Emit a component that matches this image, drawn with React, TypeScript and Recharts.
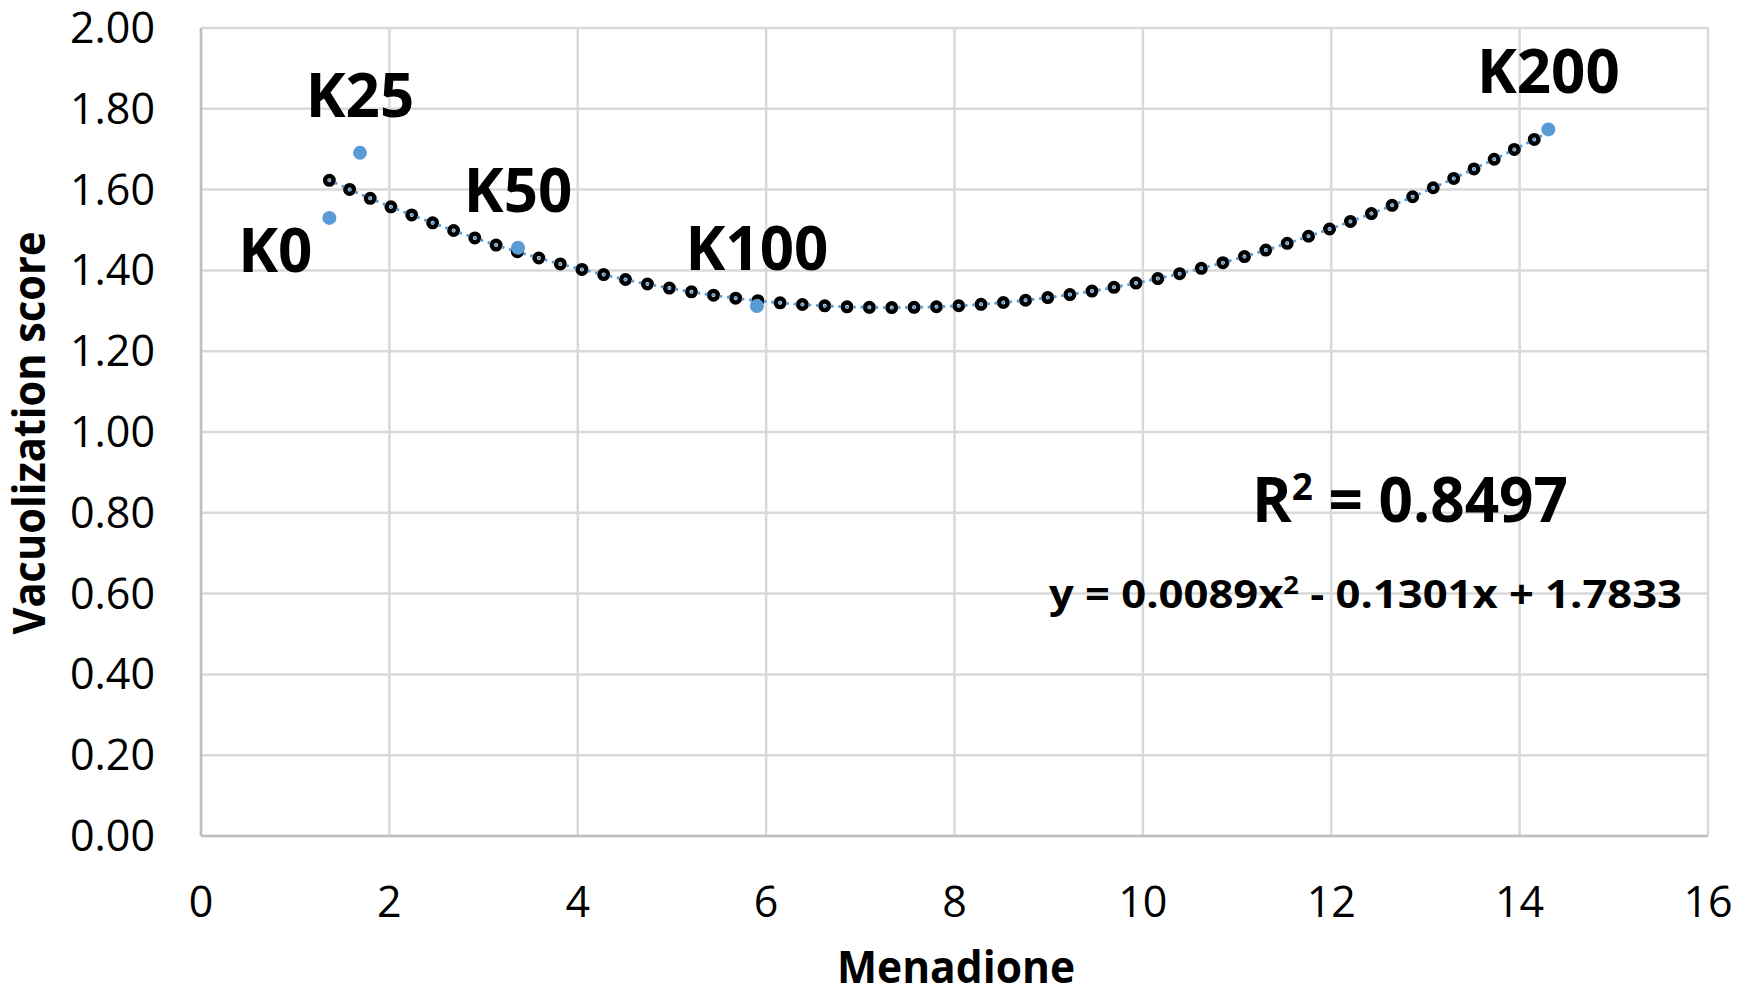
import React from 'react';
import { ComposedChart, Scatter, Line, XAxis, YAxis, CartesianGrid } from 'recharts';

// ---- data ----
const pointNames = ['K0', 'K25', 'K50', 'K100', 'K200'];
const pointX = [1.363, 1.688, 3.366, 5.902, 14.305];
const pointY = [1.53, 1.691, 1.456, 1.312, 1.749];

const trendX = [1.363, 2, 3, 4, 5, 6, 7, 8, 9, 10, 11, 12, 13, 14, 14.305];
const trendY = [1.623, 1.559, 1.473, 1.405, 1.355, 1.323, 1.309, 1.312, 1.333, 1.372, 1.429, 1.504, 1.596, 1.706, 1.743];

const xTicks = [0, 2, 4, 6, 8, 10, 12, 14, 16];
const yTicks = [0, 0.2, 0.4, 0.6, 0.8, 1.0, 1.2, 1.4, 1.6, 1.8, 2.0];

const xTitle = 'Menadione';
const yTitle = 'Vacuolization score';
const r2Value = '0.8497';
const eqPart1 = 'y = 0.0089x';
const eqPart2 = ' - 0.1301x + 1.7833';

const points = pointNames.map((name, i) => ({ name, x: pointX[i], y: pointY[i] }));
const trend = trendX.map((x, i) => ({ x, y: trendY[i] }));

const FONT = "'Open Sans', 'Noto Sans', sans-serif";
const BLUE = '#5B9BD5';

const YTick = (props: any) => {
  const { x, y, payload } = props;
  return (
    <text x={x - 46} y={y + 15} textAnchor="end" fontFamily={FONT} fontSize={43} fill="#000">
      {Number(payload.value).toFixed(2)}
    </text>
  );
};

const XTick = (props: any) => {
  const { x, y, payload } = props;
  return (
    <text x={x} y={y + 81} textAnchor="middle" fontFamily={FONT} fontSize={43} fill="#000">
      {payload.value}
    </text>
  );
};

const labelLeft: Record<string, boolean> = { K0: true };

const PointShape = (props: any) => {
  const { cx, cy, payload } = props;
  const name = payload?.name ?? '';
  const left = labelLeft[name];
  return (
    <g>
      <circle cx={cx} cy={cy} r={7} fill={BLUE} />
      <text
        x={left ? cx - 17 : cx}
        y={left ? cy + 54 : cy - 36}
        textAnchor={left ? 'end' : 'middle'}
        fontFamily={FONT}
        fontWeight="bold"
        fontSize={60}
        fill="#000"
      >
        {name}
      </text>
    </g>
  );
};

export default function App() {
  const axisLine = { stroke: '#BFBFBF', strokeWidth: 2.5 };
  return (
    <div style={{ position: 'absolute', left: 0, top: 0, width: 1750, height: 990, background: '#fff' }}>
      <ComposedChart width={1750} height={990} margin={{ top: 28, right: 42, bottom: 0, left: 0 }}>
        <CartesianGrid stroke="#D9D9D9" strokeWidth={2.5} />
        <XAxis
          type="number"
          dataKey="x"
          domain={[0, 16]}
          ticks={xTicks}
          interval={0}
          height={154}
          axisLine={axisLine}
          tickLine={false}
          tickSize={0}
          tickMargin={0}
          tick={<XTick />}
          allowDataOverflow
        />
        <YAxis
          type="number"
          dataKey="y"
          domain={[0, 2]}
          ticks={yTicks}
          interval={0}
          width={201}
          axisLine={axisLine}
          tickLine={false}
          tickSize={0}
          tickMargin={0}
          tick={<YTick />}
          allowDataOverflow
        />
        <Line
          data={trend}
          dataKey="y"
          type="natural"
          stroke="#000"
          strokeWidth={13}
          strokeDasharray="0 22.35"
          strokeLinecap="round"
          dot={false}
          activeDot={false}
          isAnimationActive={false}
        />
        <Line
          data={trend}
          dataKey="y"
          type="natural"
          stroke="#fff"
          strokeWidth={4}
          strokeDasharray="0 22.35"
          strokeLinecap="round"
          dot={false}
          activeDot={false}
          isAnimationActive={false}
        />
        <Line
          data={trend}
          dataKey="y"
          type="natural"
          stroke={BLUE}
          strokeWidth={3.2}
          strokeDasharray="0 7.45"
          strokeLinecap="round"
          dot={false}
          activeDot={false}
          isAnimationActive={false}
        />
        <Scatter data={points} dataKey="y" fill={BLUE} shape={<PointShape />} isAnimationActive={false} />
      </ComposedChart>
      <svg
        width={1750}
        height={990}
        style={{ position: 'absolute', left: 0, top: 0, pointerEvents: 'none' }}
      >
        <text
          transform="translate(45,433) rotate(-90)"
          x={0}
          y={0}
          textAnchor="middle"
          fontFamily={FONT}
          fontWeight="bold"
          fontSize={44}
          textLength={403}
          lengthAdjust="spacingAndGlyphs"
          fill="#000"
        >
          {yTitle}
        </text>
        <text
          x={837}
          y={983}
          fontFamily={FONT}
          fontWeight="bold"
          fontSize={44}
          textLength={238}
          lengthAdjust="spacingAndGlyphs"
          fill="#000"
        >
          {xTitle}
        </text>
        <text
          x={1252}
          y={522}
          fontFamily={FONT}
          fontWeight="bold"
          fontSize={62}
          textLength={316}
          lengthAdjust="spacingAndGlyphs"
          fill="#000"
        >
          R<tspan dy={-22} fontSize={38}>2</tspan>
          <tspan dy={22}>{' = ' + r2Value}</tspan>
        </text>
        <text
          x={1049}
          y={608}
          fontFamily={FONT}
          fontWeight="bold"
          fontSize={40}
          textLength={633}
          lengthAdjust="spacingAndGlyphs"
          fill="#000"
        >
          {eqPart1}
          <tspan dy={-14} fontSize={25}>2</tspan>
          <tspan dy={14}>{eqPart2}</tspan>
        </text>
      </svg>
    </div>
  );
}
